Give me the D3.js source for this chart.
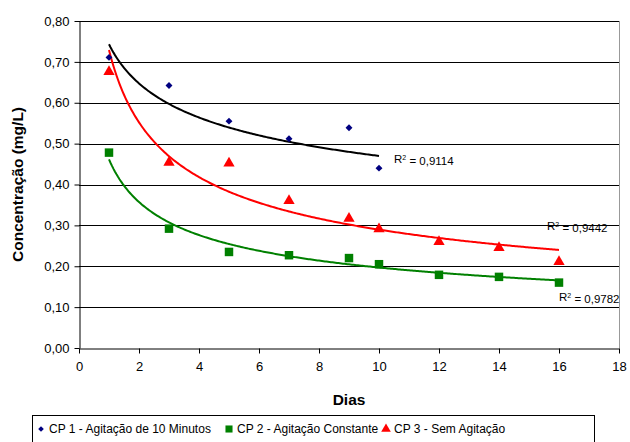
<!DOCTYPE html>
<html>
<head>
<meta charset="utf-8">
<script src="https://cdn.jsdelivr.net/npm/d3@7"></script>
<style>
  body { margin: 0; background: #fff; }
  text { font-family: "Liberation Sans", Arial, sans-serif; }
</style>
</head>
<body>
<div id="chart"></div>
<script>
/**
 * Basic Settings
 */
const canvasWidth = 630;
const canvasHeight = 442;
const margin = { left: 79, right: 10, top: 21, bottom: 94 };

// Data
const cp1Days = [1, 3, 5, 7, 9, 10];
const cp1Values = [0.711, 0.642, 0.555, 0.512, 0.539, 0.440];
const cp2Days = [1, 3, 5, 7, 9, 10, 12, 14, 16];
const cp2Values = [0.478, 0.292, 0.235, 0.227, 0.220, 0.205, 0.179, 0.174, 0.160];
const cp3Days = [1, 3, 5, 7, 9, 10, 12, 14, 16];
const cp3Values = [0.676, 0.454, 0.452, 0.360, 0.317, 0.291, 0.260, 0.245, 0.211];

// Power trendlines y = c * x^k (as drawn in the picture)
const trendScale = [0.743, 0.4615, 0.729];
const trendExp = [-0.199, -0.370, -0.401];
const r2Labels = ["0,9114", "0,9782", "0,9442"];

const seriesNames = ["CP 1 - Agitação de 10 Minutos", "CP 2 - Agitação Constante", "CP 3 - Sem Agitação"];
const xTicks = [0, 2, 4, 6, 8, 10, 12, 14, 16, 18];
const yTicks = [0, 0.1, 0.2, 0.3, 0.4, 0.5, 0.6, 0.7, 0.8];

const svg = d3.select("#chart")
  .append("svg")
  .attr("width", canvasWidth)
  .attr("height", canvasHeight);

const xScale = d3.scaleLinear()
  .domain([0, 18])
  .range([margin.left, canvasWidth - margin.right - 1]);

const yScale = d3.scaleLinear()
  .domain([0, 0.8])
  .range([canvasHeight - margin.bottom, margin.top]);

const fmt = d => d3.format(".2f")(d).replace(".", ",");

// gridlines
svg.append("g")
  .selectAll("line")
  .data(yTicks.slice(1))
  .join("line")
  .attr("x1", xScale(0))
  .attr("x2", xScale(18))
  .attr("y1", d => Math.round(yScale(d)) + 0.5)
  .attr("y2", d => Math.round(yScale(d)) + 0.5)
  .attr("stroke", "#000");

// right border of plot area
svg.append("line")
  .attr("x1", Math.round(xScale(18)) + 0.5)
  .attr("x2", Math.round(xScale(18)) + 0.5)
  .attr("y1", yScale(0.8))
  .attr("y2", yScale(0))
  .attr("stroke", "#999");

// Y axis
const yAxis = svg.append("g")
  .attr("transform", "translate(" + (Math.round(xScale(0)) + 0.5) + ",0)")
  .call(d3.axisLeft(yScale).tickValues(yTicks).tickFormat(fmt).tickSize(5).tickPadding(4).tickSizeOuter(0));

// X axis
const xAxis = svg.append("g")
  .attr("transform", "translate(0," + (Math.round(yScale(0)) + 0.5) + ")")
  .call(d3.axisBottom(xScale).tickValues(xTicks).tickSize(5).tickPadding(8).tickSizeOuter(0));

[yAxis, xAxis].forEach(function(ax) {
  ax.selectAll("text").attr("font-size", 13).attr("fill", "#000")
    .style("font-family", "'Liberation Sans', Arial, sans-serif");
  ax.selectAll("line").attr("stroke", "#000");
  ax.select(".domain").attr("stroke", "#000");
});
yAxis.selectAll("text").attr("dx", "-1");

// axis titles
svg.append("text")
  .attr("transform", "translate(18," + yScale(0.4) + ") rotate(-90)")
  .attr("text-anchor", "middle")
  .attr("dy", "0.35em")
  .attr("font-size", 15.5)
  .attr("font-weight", "bold")
  .text("Concentração (mg/L)");

svg.append("text")
  .attr("x", xScale(9))
  .attr("y", 400)
  .attr("text-anchor", "middle")
  .attr("dy", "0.35em")
  .attr("font-size", 15.5)
  .attr("font-weight", "bold")
  .text("Dias");

// trendlines
const trendColors = ["#000", "#008000", "#ff0000"];
const trendEnds = [d3.max(cp1Days), d3.max(cp2Days), d3.max(cp3Days)];
const line = d3.line()
  .x(d => xScale(d[0]))
  .y(d => yScale(d[1]));

trendScale.forEach(function(c, i) {
  const xs = d3.range(1, trendEnds[i] + 0.001, 0.05);
  svg.append("path")
    .datum(xs.map(x => [x, c * Math.pow(x, trendExp[i])]))
    .attr("fill", "none")
    .attr("stroke", trendColors[i])
    .attr("stroke-width", 2)
    .attr("d", line);
});

// markers
const symDiamond = d3.symbol().type(d3.symbolSquare).size(24);
const symSquare = d3.symbol().type(d3.symbolSquare).size(72);
const symTriangle = d3.symbol().type(d3.symbolTriangle).size(55);

svg.append("g")
  .selectAll("path")
  .data(d3.zip(cp1Days, cp1Values))
  .join("path")
  .attr("transform", d => "translate(" + xScale(d[0]) + "," + yScale(d[1]) + ") rotate(45)")
  .attr("d", symDiamond)
  .attr("fill", "#000080");

svg.append("g")
  .selectAll("path")
  .data(d3.zip(cp2Days, cp2Values))
  .join("path")
  .attr("transform", d => "translate(" + xScale(d[0]) + "," + yScale(d[1]) + ")")
  .attr("d", symSquare)
  .attr("fill", "#008000");

svg.append("g")
  .selectAll("path")
  .data(d3.zip(cp3Days, cp3Values))
  .join("path")
  .attr("transform", d => "translate(" + xScale(d[0]) + "," + yScale(d[1]) + ")")
  .attr("d", symTriangle)
  .attr("fill", "#ff0000");

// R² labels, placed near the end of each trendline
const r2Pos = [[10.5, 0.462], [16, 0.125], [15.6, 0.298]];
r2Labels.forEach(function(lbl, i) {
  const t = svg.append("text")
    .attr("x", xScale(r2Pos[i][0]))
    .attr("y", yScale(r2Pos[i][1]))
    .attr("dy", "0.35em")
    .attr("font-size", 11.5);
  t.append("tspan").text("R");
  t.append("tspan").attr("dy", "-0.45em").attr("font-size", 7).text("2");
  t.append("tspan").attr("dy", "0.45em").text(" = " + lbl);
});

// legend
const legend = svg.append("g");
legend.append("rect")
  .attr("x", 32.5)
  .attr("y", 415.5)
  .attr("width", 562)
  .attr("height", 40)
  .attr("fill", "#fff")
  .attr("stroke", "#000");

const legendX = [41, 229, 386];
const legendSyms = [
  d3.symbol().type(d3.symbolSquare).size(16),
  d3.symbol().type(d3.symbolSquare).size(50),
  d3.symbol().type(d3.symbolTriangle).size(40)
];
const legendFill = ["#000080", "#008000", "#ff0000"];
seriesNames.forEach(function(name, i) {
  legend.append("path")
    .attr("transform", "translate(" + legendX[i] + ",429)" + (i === 0 ? " rotate(45)" : ""))
    .attr("d", legendSyms[i])
    .attr("fill", legendFill[i]);
  legend.append("text")
    .attr("x", legendX[i] + 8)
    .attr("y", 429)
    .attr("dy", "0.35em")
    .attr("font-size", 12)
    .text(name);
});
</script>
</body>
</html>
